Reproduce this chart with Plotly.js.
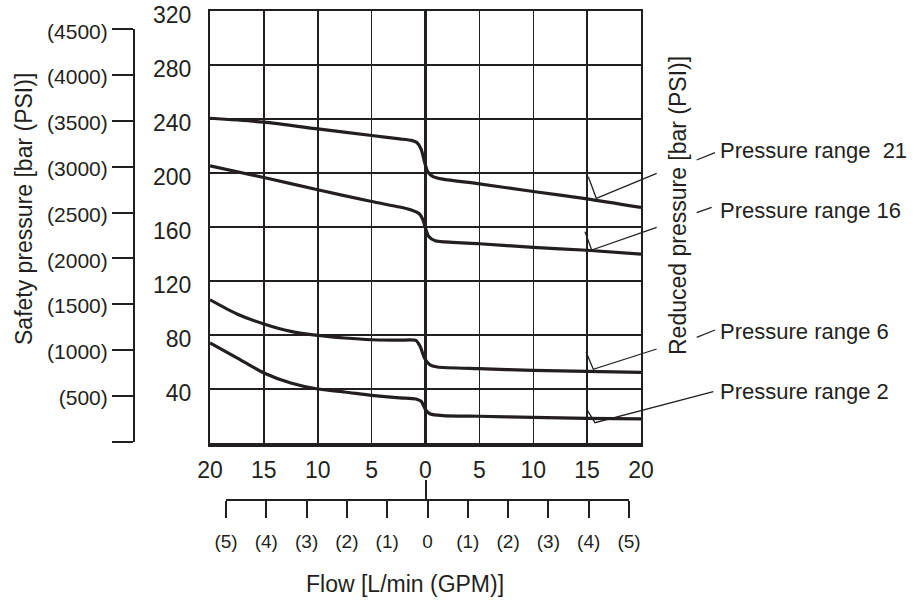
<!DOCTYPE html>
<html><head><meta charset="utf-8">
<script src="https://cdn.plot.ly/plotly-3.0.1.min.js"></script>
<style>html,body{margin:0;padding:0;background:#fff}#chart{width:920px;height:601px}</style>
</head><body><div id="chart"></div>
<script>
// ---- data ----
const flowTicks = [-20, -15, -10, -5, 0, 5, 10, 15, 20];
const flowTickText = ['20', '15', '10', '5', '0', '5', '10', '15', '20'];
const barTicks = [40, 80, 120, 160, 200, 240, 280, 320];
const barTickText = ['40', '80', '120', '160', '200', '240', '280', '320'];
const psiTicks = [0, 500, 1000, 1500, 2000, 2500, 3000, 3500, 4000, 4500];
const psiTickText = ['', '(500)', '(1000)', '(1500)', '(2000)', '(2500)', '(3000)', '(3500)', '(4000)', '(4500)'];
const gpmTicks = [-5, -4, -3, -2, -1, 0, 1, 2, 3, 4, 5];
const gpmTickText = ['(5)', '(4)', '(3)', '(2)', '(1)', '0', '(1)', '(2)', '(3)', '(4)', '(5)'];

const flow21 = [-20, -15, -10, -5, -2.4, -1.3, -0.8, -0.4, -0.1, 0.2, 0.7, 1.6, 5, 10, 15, 20];
const bar21  = [240.6, 237.7, 232.7, 227.8, 225.3, 224.2, 222.6, 217.6, 208.5, 201.1, 197.4, 195.5, 192.0, 186.3, 180.9, 174.5];

const flow16 = [-20, -15, -10, -5, -2.4, -1.2, -0.6, -0.25, 0, 0.3, 0.9, 2.5, 5, 10, 15, 20];
const bar16  = [205.3, 196.7, 187.6, 178.9, 174.8, 172.3, 170.0, 165.6, 159.2, 153.0, 149.8, 148.6, 147.6, 144.9, 142.8, 140.0];

const flow6 = [-20, -17.5, -15, -12.5, -10, -7.5, -5, -2.4, -0.9, -0.5, -0.1, 0.4, 1.1, 5, 10, 15, 20];
const bar6  = [106.1, 95.6, 88.2, 82.7, 79.7, 77.8, 76.5, 76.2, 76.0, 71.6, 63.0, 58.0, 56.3, 55.1, 53.8, 53.1, 52.3];

const flow2 = [-20, -17.5, -15, -12.5, -10, -7.5, -5, -2.4, -0.9, -0.4, 0, 0.45, 1.6, 5, 10, 15, 20];
const bar2  = [74.1, 63.0, 51.9, 44.5, 40.0, 37.8, 35.3, 33.4, 32.6, 30.9, 24.7, 21.5, 20.3, 19.8, 19.0, 18.3, 17.8];

const seriesNames = ['Pressure range\u00a0 21', 'Pressure range 16', 'Pressure range 6', 'Pressure range 2'];

// ---- layout helpers (pixel -> paper) ----
const W = 920, H = 601;
const px = x => x / W;
const py = y => (H - y) / H;
const INK = '#231f20';
const FONT = 'Liberation Sans, Arial, Helvetica, sans-serif';

const series = [[flow21, bar21], [flow16, bar16], [flow6, bar6], [flow2, bar2]];
const data = series.map((s, i) => ({
  type: 'scatter', mode: 'lines', x: s[0], y: s[1], name: seriesNames[i],
  line: {color: INK, width: 3.2, shape: 'spline', smoothing: 0.6},
  hoverinfo: 'skip'
}));
// carriers for the secondary axes
data.push({type: 'scatter', x: [], y: [], xaxis: 'x', yaxis: 'y2', showlegend: false, hoverinfo: 'skip'});
data.push({type: 'scatter', x: [], y: [], xaxis: 'x2', yaxis: 'y', showlegend: false, hoverinfo: 'skip'});

function seg(points, width) {
  const d = points.map((p, i) => (i ? 'L' : 'M') + px(p[0]).toFixed(5) + ',' + py(p[1]).toFixed(5)).join(' ');
  return {type: 'path', xref: 'paper', yref: 'paper', path: d, line: {color: INK, width: width || 1.3}};
}

const shapes = [
  // top frame line
  seg([[208, 10], [643, 10]], 2),
  // centre tick above GPM scale
  seg([[426, 480], [426, 500]], 2),
  // leader lines
  seg([[588.3, 176.7], [596.3, 198.3], [656.7, 173.3]]),
  seg([[696.7, 160], [715, 152.7]]),
  seg([[585, 231.7], [591.7, 250], [656.7, 227.3]]),
  seg([[696.7, 212.7], [711.7, 207.3]]),
  seg([[586, 351.7], [593.3, 369.3], [656.7, 349]]),
  seg([[696.7, 337.3], [715, 330]]),
  seg([[586.7, 409.3], [595, 422.7], [713.3, 391.7]])
];

const labelY = [150, 210, 331.7, 391.7];
const annotations = seriesNames.map((t, i) => ({
  xref: 'paper', yref: 'paper', x: px(718), y: py(labelY[i]), xanchor: 'left', yanchor: 'middle',
  text: t, showarrow: false, font: {family: FONT, size: 22, color: INK}
}));
annotations.push({
  xref: 'paper', yref: 'paper', x: px(24), y: py(209), xanchor: 'center', yanchor: 'middle',
  text: 'Safety pressure [bar (PSI)]', textangle: -90, showarrow: false,
  font: {family: FONT, size: 23, color: INK}
});
annotations.push({
  xref: 'paper', yref: 'paper', x: px(678), y: py(206), xanchor: 'center', yanchor: 'middle',
  text: 'Reduced pressure [bar (PSI)]', textangle: -90, showarrow: false,
  font: {family: FONT, size: 23, color: INK}
});
annotations.push({
  xref: 'paper', yref: 'paper', x: px(405), y: py(584), xanchor: 'center', yanchor: 'middle',
  text: 'Flow [L/min (GPM)]', showarrow: false,
  font: {family: FONT, size: 23, color: INK}
});

const layout = {
  width: W, height: H, autosize: false,
  margin: {l: 0, r: 0, t: 0, b: 0, pad: 0},
  paper_bgcolor: '#ffffff', plot_bgcolor: 'rgba(0,0,0,0)',
  showlegend: false,
  font: {family: FONT, color: INK},
  xaxis: {
    domain: [px(210), px(641)], range: [-20, 20], anchor: 'y',
    tickmode: 'array', tickvals: flowTicks, ticktext: flowTickText,
    ticks: '', showgrid: true, gridcolor: INK, gridwidth: 1.5,
    zeroline: true, zerolinecolor: INK, zerolinewidth: 3,
    showline: true, linecolor: INK, linewidth: 4, mirror: false,
    tickfont: {family: FONT, size: 23, color: INK}, ticklabelstandoff: 3,
    ticklabeloverflow: 'allow',
    fixedrange: true
  },
  yaxis: {
    domain: [py(443), py(11)], range: [0, 320.05], anchor: 'x',
    tickmode: 'array', tickvals: barTicks, ticktext: barTickText,
    ticks: '', showgrid: true, gridcolor: INK, gridwidth: 1.5, zeroline: false,
    showline: true, linecolor: INK, linewidth: 2, mirror: true,
    tickfont: {family: FONT, size: 23, color: INK}, ticklabelstandoff: 12,
    ticklabeloverflow: 'allow', ticklabelshift: 4,
    fixedrange: true
  },
  yaxis2: {
    domain: [py(441.5), py(29.3)], range: [0, 4500], anchor: 'free', position: px(134), side: 'left',
    tickmode: 'array', tickvals: psiTicks, ticktext: psiTickText,
    ticks: 'outside', ticklen: 21, tickwidth: 2, tickcolor: INK,
    showgrid: false, zeroline: false, showline: true, linecolor: INK, linewidth: 2,
    tickfont: {family: FONT, size: 21, color: INK}, ticklabelshift: 2,
    ticklabeloverflow: 'allow',
    fixedrange: true
  },
  xaxis2: {
    domain: [px(226), px(629)], range: [-5, 5], anchor: 'free', position: py(500), side: 'bottom',
    tickmode: 'array', tickvals: gpmTicks, ticktext: gpmTickText,
    ticks: 'outside', ticklen: 17, tickwidth: 2, tickcolor: INK,
    showgrid: false, zeroline: false, showline: true, linecolor: INK, linewidth: 2,
    tickfont: {family: FONT, size: 19, color: INK}, ticklabelstandoff: 7,
    ticklabeloverflow: 'allow',
    fixedrange: true
  },
  shapes: shapes,
  annotations: annotations
};

Plotly.newPlot('chart', data, layout, {staticPlot: true, displayModeBar: false});
</script>
</body></html>
